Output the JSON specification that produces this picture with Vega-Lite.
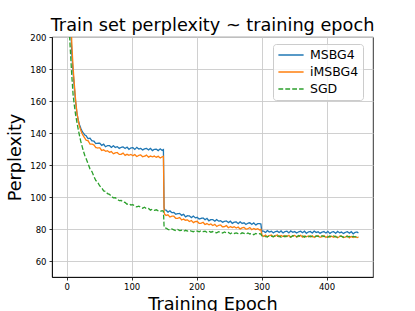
{
"$schema": "https://vega.github.io/schema/vega-lite/v6.json",
"width": 321, "height": 240,
"autosize": "none",
"padding": {"left": 52, "top": 37, "right": 42, "bottom": 34},
"background": "white",
"config": {
 "font": "DejaVu Sans",
 "view": {"stroke": "black", "strokeWidth": 0.8},
 "axis": {"labelFont": "DejaVu Sans", "titleFont": "DejaVu Sans", "labelColor": "black", "titleColor": "black", "titleFontWeight": "normal", "labelFontSize": 8.5, "titleFontSize": 17.7, "tickColor": "black", "tickSize": 3, "tickWidth": 0.8, "domainColor": "black", "domainWidth": 0.8, "gridColor": "#cbcbcb", "gridWidth": 0.9, "labelFlush": false, "labelOverlap": false}
},
"title": {"text": "Train set perplexity ~ training epoch", "fontSize": 17.7, "font": "DejaVu Sans", "fontWeight": "normal", "color": "black", "frame": "group", "anchor": "middle", "baseline": "alphabetic", "offset": -16},
"data": {"values": [
{"e":0,"MSBG4":400,"iMSBG4":420,"SGD":300},
{"e":2,"MSBG4":310,"iMSBG4":330,"SGD":240},
{"e":4,"MSBG4":250,"iMSBG4":260,"SGD":205},
{"e":6,"MSBG4":212,"iMSBG4":220,"SGD":190},
{"e":8,"MSBG4":190,"iMSBG4":196,"SGD":176},
{"e":10,"MSBG4":178,"iMSBG4":181,"SGD":164},
{"e":12,"MSBG4":168,"iMSBG4":170,"SGD":157},
{"e":14,"MSBG4":159,"iMSBG4":160,"SGD":151},
{"e":16,"MSBG4":152,"iMSBG4":152.5,"SGD":146.5},
{"e":18,"MSBG4":148,"iMSBG4":147.5,"SGD":142},
{"e":20,"MSBG4":145,"iMSBG4":144,"SGD":138},
{"e":22,"MSBG4":142.8,"iMSBG4":141.5,"SGD":134.5},
{"e":24,"MSBG4":141,"iMSBG4":139.5,"SGD":131.5},
{"e":26,"MSBG4":139.8,"iMSBG4":138,"SGD":128.5},
{"e":28,"MSBG4":138.8,"iMSBG4":136.8,"SGD":126},
{"e":30,"MSBG4":138.3,"iMSBG4":135.5,"SGD":124.1},
{"e":33,"MSBG4":136.5,"iMSBG4":135.2,"SGD":120.8},
{"e":36,"MSBG4":136.8,"iMSBG4":133.1,"SGD":117.6},
{"e":39,"MSBG4":135.1,"iMSBG4":133.0,"SGD":115.9},
{"e":42,"MSBG4":134.9,"iMSBG4":132.6,"SGD":112.9},
{"e":45,"MSBG4":133.4,"iMSBG4":130.9,"SGD":110.3},
{"e":48,"MSBG4":133.6,"iMSBG4":130.6,"SGD":109.1},
{"e":51,"MSBG4":133.6,"iMSBG4":130.8,"SGD":106.9},
{"e":54,"MSBG4":132.3,"iMSBG4":129.1,"SGD":105.8},
{"e":57,"MSBG4":133.0,"iMSBG4":129.5,"SGD":103.8},
{"e":60,"MSBG4":131.4,"iMSBG4":128.6,"SGD":103.5},
{"e":63,"MSBG4":132.1,"iMSBG4":128.9,"SGD":102.1},
{"e":66,"MSBG4":132.1,"iMSBG4":127.9,"SGD":101.7},
{"e":69,"MSBG4":131.0,"iMSBG4":128.4,"SGD":100.4},
{"e":72,"MSBG4":132.0,"iMSBG4":127.0,"SGD":99.5},
{"e":75,"MSBG4":131.0,"iMSBG4":127.6,"SGD":99.6},
{"e":78,"MSBG4":131.4,"iMSBG4":127.8,"SGD":98.7},
{"e":81,"MSBG4":130.4,"iMSBG4":126.6,"SGD":97.7},
{"e":84,"MSBG4":131.0,"iMSBG4":126.7,"SGD":97.9},
{"e":87,"MSBG4":131.3,"iMSBG4":127.4,"SGD":96.8},
{"e":90,"MSBG4":130.3,"iMSBG4":126.0,"SGD":96.6},
{"e":93,"MSBG4":131.2,"iMSBG4":126.7,"SGD":95.5},
{"e":96,"MSBG4":129.8,"iMSBG4":126.1,"SGD":95.9},
{"e":99,"MSBG4":130.7,"iMSBG4":126.6,"SGD":95.0},
{"e":102,"MSBG4":130.8,"iMSBG4":125.8,"SGD":95.2},
{"e":105,"MSBG4":129.8,"iMSBG4":126.5,"SGD":94.3},
{"e":108,"MSBG4":131.0,"iMSBG4":125.3,"SGD":93.8},
{"e":111,"MSBG4":130.0,"iMSBG4":126.0,"SGD":94.3},
{"e":114,"MSBG4":130.4,"iMSBG4":126.3,"SGD":93.7},
{"e":117,"MSBG4":129.4,"iMSBG4":125.2,"SGD":93.0},
{"e":120,"MSBG4":130.1,"iMSBG4":125.5,"SGD":93.6},
{"e":123,"MSBG4":130.4,"iMSBG4":126.2,"SGD":92.7},
{"e":126,"MSBG4":129.4,"iMSBG4":124.9,"SGD":92.8},
{"e":129,"MSBG4":130.4,"iMSBG4":125.6,"SGD":91.8},
{"e":132,"MSBG4":129.0,"iMSBG4":125.1,"SGD":92.4},
{"e":135,"MSBG4":129.8,"iMSBG4":125.6,"SGD":91.7},
{"e":138,"MSBG4":129.9,"iMSBG4":124.8,"SGD":92.0},
{"e":141,"MSBG4":129.0,"iMSBG4":125.5,"SGD":91.3},
{"e":144,"MSBG4":130.1,"iMSBG4":124.4,"SGD":90.9},
{"e":147,"MSBG4":129.1,"iMSBG4":125.1,"SGD":91.5},
{"e":149,"MSBG4":129.6,"iMSBG4":125.4,"SGD":91.1},
{"e":150,"MSBG4":93.5,"iMSBG4":90.5,"SGD":81.5},
{"e":151,"MSBG4":92.0,"iMSBG4":89.2,"SGD":80.6},
{"e":153,"MSBG4":91.8,"iMSBG4":88.5,"SGD":80.6},
{"e":156,"MSBG4":90.5,"iMSBG4":88.9,"SGD":79.8},
{"e":159,"MSBG4":91.4,"iMSBG4":87.5,"SGD":79.4},
{"e":162,"MSBG4":90.2,"iMSBG4":88.0,"SGD":80.0},
{"e":165,"MSBG4":90.4,"iMSBG4":88.0,"SGD":79.5},
{"e":168,"MSBG4":89.2,"iMSBG4":86.7,"SGD":79.0},
{"e":171,"MSBG4":89.6,"iMSBG4":86.7,"SGD":79.7},
{"e":174,"MSBG4":89.7,"iMSBG4":87.2,"SGD":79.0},
{"e":177,"MSBG4":88.5,"iMSBG4":85.7,"SGD":79.2},
{"e":180,"MSBG4":89.2,"iMSBG4":86.2,"SGD":78.5},
{"e":183,"MSBG4":87.6,"iMSBG4":85.4,"SGD":79.2},
{"e":186,"MSBG4":88.3,"iMSBG4":85.7,"SGD":78.7},
{"e":189,"MSBG4":88.2,"iMSBG4":84.7,"SGD":79.1},
{"e":192,"MSBG4":87.1,"iMSBG4":85.3,"SGD":78.6},
{"e":195,"MSBG4":88.1,"iMSBG4":84.0,"SGD":78.3},
{"e":198,"MSBG4":87.0,"iMSBG4":84.6,"SGD":79.1},
{"e":201,"MSBG4":87.3,"iMSBG4":84.8,"SGD":78.7},
{"e":204,"MSBG4":86.2,"iMSBG4":83.5,"SGD":78.3},
{"e":207,"MSBG4":86.7,"iMSBG4":83.6,"SGD":79.0},
{"e":210,"MSBG4":86.9,"iMSBG4":84.2,"SGD":78.4},
{"e":213,"MSBG4":85.8,"iMSBG4":82.8,"SGD":78.6},
{"e":216,"MSBG4":86.6,"iMSBG4":83.4,"SGD":77.9},
{"e":219,"MSBG4":85.1,"iMSBG4":82.7,"SGD":78.6},
{"e":222,"MSBG4":85.9,"iMSBG4":83.1,"SGD":78.0},
{"e":225,"MSBG4":85.9,"iMSBG4":82.2,"SGD":78.4},
{"e":228,"MSBG4":84.9,"iMSBG4":82.9,"SGD":77.9},
{"e":231,"MSBG4":85.9,"iMSBG4":81.6,"SGD":77.6},
{"e":234,"MSBG4":84.9,"iMSBG4":82.3,"SGD":78.3},
{"e":237,"MSBG4":85.2,"iMSBG4":82.5,"SGD":77.9},
{"e":240,"MSBG4":84.2,"iMSBG4":81.3,"SGD":77.5},
{"e":243,"MSBG4":84.8,"iMSBG4":81.5,"SGD":78.2},
{"e":246,"MSBG4":85.0,"iMSBG4":82.1,"SGD":77.5},
{"e":249,"MSBG4":84.0,"iMSBG4":80.8,"SGD":77.8},
{"e":252,"MSBG4":84.9,"iMSBG4":81.5,"SGD":77.0},
{"e":255,"MSBG4":83.5,"iMSBG4":80.9,"SGD":77.8},
{"e":258,"MSBG4":84.3,"iMSBG4":81.4,"SGD":77.2},
{"e":261,"MSBG4":84.4,"iMSBG4":80.6,"SGD":77.6},
{"e":264,"MSBG4":83.4,"iMSBG4":81.2,"SGD":77.1},
{"e":267,"MSBG4":84.5,"iMSBG4":80.0,"SGD":76.8},
{"e":270,"MSBG4":83.5,"iMSBG4":80.7,"SGD":77.6},
{"e":273,"MSBG4":83.9,"iMSBG4":81.0,"SGD":77.2},
{"e":276,"MSBG4":82.9,"iMSBG4":79.9,"SGD":76.8},
{"e":279,"MSBG4":83.6,"iMSBG4":80.2,"SGD":77.5},
{"e":282,"MSBG4":83.9,"iMSBG4":80.9,"SGD":76.9},
{"e":285,"MSBG4":82.9,"iMSBG4":79.6,"SGD":77.2},
{"e":288,"MSBG4":83.8,"iMSBG4":80.3,"SGD":76.4},
{"e":291,"MSBG4":82.5,"iMSBG4":79.7,"SGD":77.2},
{"e":294,"MSBG4":83.3,"iMSBG4":80.2,"SGD":76.7},
{"e":297,"MSBG4":83.4,"iMSBG4":79.4,"SGD":77.1},
{"e":299,"MSBG4":83.1,"iMSBG4":79.8,"SGD":76.8},
{"e":300,"MSBG4":79.5,"iMSBG4":76.9,"SGD":76.0},
{"e":301,"MSBG4":78.6,"iMSBG4":76.0,"SGD":75.6},
{"e":303,"MSBG4":78.7,"iMSBG4":75.4,"SGD":75.8},
{"e":306,"MSBG4":77.8,"iMSBG4":76.2,"SGD":75.3},
{"e":309,"MSBG4":79.0,"iMSBG4":75.1,"SGD":75.1},
{"e":312,"MSBG4":78.1,"iMSBG4":75.9,"SGD":75.9},
{"e":315,"MSBG4":78.6,"iMSBG4":76.2,"SGD":75.6},
{"e":318,"MSBG4":77.6,"iMSBG4":75.2,"SGD":75.2},
{"e":321,"MSBG4":78.3,"iMSBG4":75.5,"SGD":76.0},
{"e":324,"MSBG4":78.7,"iMSBG4":76.3,"SGD":75.4},
{"e":327,"MSBG4":77.8,"iMSBG4":75.1,"SGD":75.7},
{"e":330,"MSBG4":78.8,"iMSBG4":75.9,"SGD":74.9},
{"e":333,"MSBG4":77.5,"iMSBG4":75.3,"SGD":75.7},
{"e":336,"MSBG4":78.4,"iMSBG4":75.9,"SGD":75.2},
{"e":339,"MSBG4":78.6,"iMSBG4":75.2,"SGD":75.7},
{"e":342,"MSBG4":77.6,"iMSBG4":76.0,"SGD":75.2},
{"e":345,"MSBG4":78.8,"iMSBG4":74.9,"SGD":75.0},
{"e":348,"MSBG4":77.9,"iMSBG4":75.7,"SGD":75.8},
{"e":351,"MSBG4":78.4,"iMSBG4":76.0,"SGD":75.5},
{"e":354,"MSBG4":77.5,"iMSBG4":75.0,"SGD":75.1},
{"e":357,"MSBG4":78.2,"iMSBG4":75.3,"SGD":75.9},
{"e":360,"MSBG4":78.6,"iMSBG4":76.1,"SGD":75.3},
{"e":363,"MSBG4":77.7,"iMSBG4":74.9,"SGD":75.6},
{"e":366,"MSBG4":78.6,"iMSBG4":75.7,"SGD":74.9},
{"e":369,"MSBG4":77.3,"iMSBG4":75.1,"SGD":75.7},
{"e":372,"MSBG4":78.2,"iMSBG4":75.7,"SGD":75.2},
{"e":375,"MSBG4":78.4,"iMSBG4":75.0,"SGD":75.7},
{"e":378,"MSBG4":77.5,"iMSBG4":75.8,"SGD":75.1},
{"e":381,"MSBG4":78.7,"iMSBG4":74.7,"SGD":74.9},
{"e":384,"MSBG4":77.8,"iMSBG4":75.5,"SGD":75.7},
{"e":387,"MSBG4":78.3,"iMSBG4":75.8,"SGD":75.4},
{"e":390,"MSBG4":77.3,"iMSBG4":74.8,"SGD":75.0},
{"e":393,"MSBG4":78.0,"iMSBG4":75.1,"SGD":75.8},
{"e":396,"MSBG4":78.4,"iMSBG4":75.9,"SGD":75.2},
{"e":399,"MSBG4":77.5,"iMSBG4":74.7,"SGD":75.5},
{"e":402,"MSBG4":78.5,"iMSBG4":75.5,"SGD":74.8},
{"e":405,"MSBG4":77.2,"iMSBG4":74.9,"SGD":75.6},
{"e":408,"MSBG4":78.1,"iMSBG4":75.5,"SGD":75.1},
{"e":411,"MSBG4":78.3,"iMSBG4":74.8,"SGD":75.6},
{"e":414,"MSBG4":77.3,"iMSBG4":75.6,"SGD":75.1},
{"e":417,"MSBG4":78.5,"iMSBG4":74.5,"SGD":74.9},
{"e":420,"MSBG4":77.6,"iMSBG4":75.3,"SGD":75.7},
{"e":423,"MSBG4":78.1,"iMSBG4":75.6,"SGD":75.4},
{"e":426,"MSBG4":77.2,"iMSBG4":74.6,"SGD":74.9},
{"e":429,"MSBG4":77.9,"iMSBG4":74.9,"SGD":75.7},
{"e":432,"MSBG4":78.3,"iMSBG4":75.7,"SGD":75.1},
{"e":435,"MSBG4":77.4,"iMSBG4":74.5,"SGD":75.4},
{"e":438,"MSBG4":78.3,"iMSBG4":75.3,"SGD":74.7},
{"e":441,"MSBG4":77.0,"iMSBG4":74.7,"SGD":75.5},
{"e":444,"MSBG4":77.9,"iMSBG4":75.3,"SGD":75.0},
{"e":447,"MSBG4":78.1,"iMSBG4":74.6,"SGD":75.5},
{"e":449,"MSBG4":77.5,"iMSBG4":74.9,"SGD":75.1}
]},
"transform": [{"fold": ["MSBG4", "iMSBG4", "SGD"], "as": ["k", "v"]}],
"mark": {"type": "line", "clip": true, "strokeWidth": 1.3},
"encoding": {
 "x": {"field": "e", "type": "quantitative", "scale": {"domain": [-22.45, 471.45], "nice": false, "zero": false},
   "axis": {"title": "Training Epoch", "values": [0, 100, 200, 300, 400], "labelPadding": 2.5, "titlePadding": 4}},
 "y": {"field": "v", "type": "quantitative", "scale": {"domain": [50, 200], "nice": false, "zero": false},
   "axis": {"title": "Perplexity", "values": [60, 80, 100, 120, 140, 160, 180, 200], "labelPadding": 3, "titlePadding": 5}},
 "color": {"field": "k", "type": "nominal", "sort": ["MSBG4", "iMSBG4", "SGD"],
   "scale": {"domain": ["MSBG4", "iMSBG4", "SGD"], "range": ["#1f77b4", "#ff7f0e", "#2ca02c"]},
   "legend": {"title": null, "orient": "none", "legendX": 221, "legendY": 7, "padding": 4, "labelFontSize": 12.5, "labelFont": "DejaVu Sans", "labelColor": "black", "symbolType": "M-2.1,0H2.1", "symbolSize": 144, "symbolStrokeWidth": 1.3, "symbolOffset": 7, "labelOffset": 12, "rowPadding": 3, "strokeColor": "#cccccc", "fillColor": "rgba(255,255,255,0.8)", "cornerRadius": 3}},
 "strokeDash": {"field": "k", "type": "nominal", "sort": ["MSBG4", "iMSBG4", "SGD"],
   "scale": {"domain": ["MSBG4", "iMSBG4", "SGD"], "range": [[1, 0], [1, 0], [4.8, 2.1]]},
   "legend": {"title": null, "orient": "none", "legendX": 221, "legendY": 7, "padding": 4, "labelFontSize": 12.5, "labelFont": "DejaVu Sans", "labelColor": "black", "symbolType": "M-2.1,0H2.1", "symbolSize": 144, "symbolStrokeWidth": 1.3, "symbolOffset": 7, "labelOffset": 12, "rowPadding": 3, "strokeColor": "#cccccc", "fillColor": "rgba(255,255,255,0.8)", "cornerRadius": 3}}
}
}
